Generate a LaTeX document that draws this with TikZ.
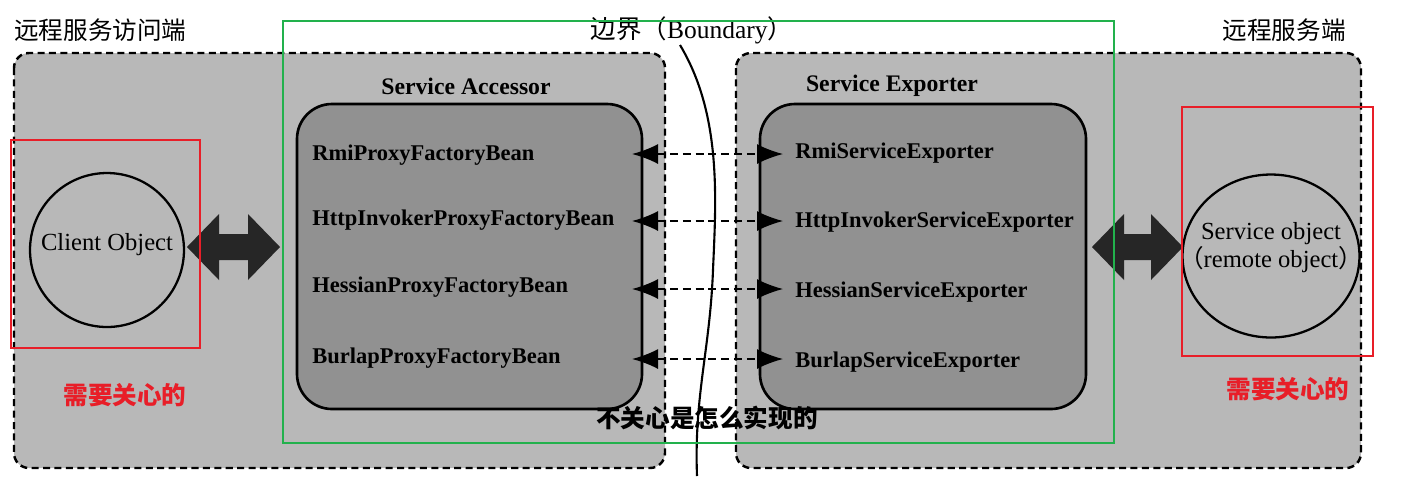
\documentclass[tikz,border=0pt]{standalone}
\usepackage{fontspec}
\setmainfont{Liberation Serif}
\newfontfamily\cjk{Noto Sans CJK SC}
\usetikzlibrary{arrows.meta,shapes.geometric}

\definecolor{outerfill}{gray}{0.72}
\definecolor{innerfill}{gray}{0.57}
\definecolor{markred}{RGB}{232,30,40}
\definecolor{markgreen}{RGB}{34,177,76}

\tikzset{
    sidebox/.style={draw, line width=1.4pt, dash pattern=on 4pt off 2.5pt, rounded corners=0.3cm, fill=outerfill},
    corebox/.style={draw, line width=1.5pt, rounded corners=0.7cm, fill=innerfill},
    boxtitle/.style={inner sep=0pt, font=\fontsize{13.5}{15}\selectfont\bfseries},
    item/.style={inner sep=0pt, anchor=west, font=\fontsize{12.8}{15}\selectfont\bfseries},
    objshape/.style={draw, ellipse, line width=1.3pt, inner sep=0pt},
    objtext/.style={inner sep=0pt, align=center, font=\fontsize{14}{16}\selectfont},
    sidelabel/.style={inner sep=0pt, font=\fontsize{14}{16}\selectfont\cjk},
    note/.style={inner sep=0pt, font=\fontsize{14}{16}\selectfont\cjk\bfseries},
    link/.style={line width=1pt, dash pattern=on 4.5pt off 2.8pt,
        {Latex[length=0.52cm,width=0.4cm]}-{Latex[length=0.52cm,width=0.4cm]}},
    fat/.style={fill=black!85},
    markbox/.style={line width=1pt}
}

\begin{document}
\begin{tikzpicture}[x=0.02cm, y=-0.02cm]
    \fill[white] (0,0) rectangle (1404,485);
    \useasboundingbox (0,0) rectangle (1404,485);

    % the two sides
    \draw[sidebox] (14,53) rectangle (665,468);
    \draw[sidebox] (736,53) rectangle (1361,468);

    \node[sidelabel, anchor=west] (clientside) at (14,30) {远程服务访问端};
    \node[sidelabel, anchor=east] (serverside) at (1346,30) {远程服务端};
    \node[inner sep=0pt, font=\fontsize{14.5}{16}\selectfont] (boundary) at (692,30) {{\cjk 边界（}Boundary{\cjk ）}};

    % boundary line
    \draw[line width=1.2pt] (680,45) .. controls (722,115) and (716,200) .. (713,270)
        .. controls (710,350) and (694,395) .. (697,476);

    % accessor and exporter
    \draw[corebox] (297,104) rectangle (642,409);
    \draw[corebox] (760,104) rectangle (1086,409);
    \node[boxtitle] (accessor) at (466,86) {Service Accessor};
    \node[boxtitle] (exporter) at (892,86) {Service Exporter};

    \node[item] (rmiA) at (312,155) {RmiProxyFactoryBean};
    \node[item] (httpA) at (312,220) {HttpInvokerProxyFactoryBean};
    \node[item] (hessA) at (312,287) {HessianProxyFactoryBean};
    \node[item] (burlA) at (312,358) {BurlapProxyFactoryBean};

    \node[item] (rmiE) at (795,153) {RmiServiceExporter};
    \node[item] (httpE) at (795,222) {HttpInvokerServiceExporter};
    \node[item] (hessE) at (795,292) {HessianServiceExporter};
    \node[item] (burlE) at (795,362) {BurlapServiceExporter};

    \foreach \i/\y in {1/154, 2/221, 3/289, 4/359} {
        \coordinate (acc\i) at (632,\y);
        \coordinate (exp\i) at (783,\y);
        \draw[link] (acc\i) -- (exp\i);
    }

    % objects
    \node[objshape, minimum width=3.08cm, minimum height=3.08cm] (client) at (107,250) {};
    \node[objtext] (clienttext) at (107,245) {Client Object};
    \node[objshape, minimum width=3.54cm, minimum height=3.26cm] (service) at (1271,256) {};
    \node[objtext] (servicetext) at (1271,248) {Service object\\{\cjk （}remote object{\cjk ）}};

    % fat arrows
    \fill[fat] (187,247) -- (219,214) -- (219,234) -- (248,234) -- (248,214) -- (280,247)
        -- (248,280) -- (248,260) -- (219,260) -- (219,280) -- cycle;
    \fill[fat] (1092,247) -- (1124,214) -- (1124,234) -- (1151,234) -- (1151,214) -- (1183,247)
        -- (1151,280) -- (1151,260) -- (1124,260) -- (1124,280) -- cycle;

    % marks
    \draw[markbox, markred] (11,140) rectangle (200,348);
    \draw[markbox, markred] (1182,107) rectangle (1373,356);
    \draw[markbox, markgreen] (283,21) rectangle (1114,443);

    \node[note, text=markred] (careL) at (125,395) {需要关心的};
    \node[note, text=markred] (careR) at (1288,389) {需要关心的};
    \node[note] (nocare) at (707,418) {不关心是怎么实现的};
\end{tikzpicture}
\end{document}
